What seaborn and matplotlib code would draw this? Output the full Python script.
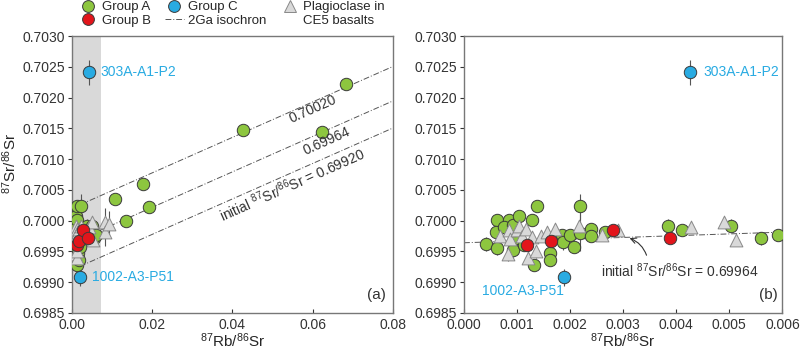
import numpy as np
import pandas as pd
import matplotlib
matplotlib.use("Agg")
import matplotlib.pyplot as plt
from matplotlib.lines import Line2D
import seaborn as sns

# ---- data ----
groupA_x = [0.00042, 0.00062, 0.00061, 0.00063, 0.00084, 0.00076, 0.00093, 0.00104,
            0.00100, 0.00092, 0.00129, 0.00137, 0.00113, 0.00131, 0.00162, 0.00163,
            0.00184, 0.00187, 0.00199, 0.00207, 0.00218, 0.00218, 0.00239, 0.00240,
            0.00266, 0.00385, 0.00411, 0.00503, 0.00559, 0.00592,
            0.0107, 0.01345, 0.01776, 0.01926, 0.04267, 0.0624, 0.0684]
groupA_y = [0.69962, 0.70001, 0.69982, 0.69956, 0.70001, 0.69989, 0.69993, 0.70008,
            0.69971, 0.69952, 0.70001, 0.70024, 0.69960, 0.69928, 0.69947, 0.69936,
            0.69976, 0.69966, 0.69977, 0.69957, 0.70023, 0.69980, 0.69986, 0.69975,
            0.69981, 0.69992, 0.69984, 0.69992, 0.69971, 0.69976,
            0.70035, 0.70000, 0.70059, 0.70022, 0.70148, 0.70144, 0.70222]
groupA_err = [0.00012, 0.00010, 0.00008, 0.00012, 0.00008, 0.00010, 0.00008, 0.00008,
              0.00010, 0.00012, 0.00010, 0.00008, 0.00010, 0.00010, 0.00008, 0.00008,
              0.00010, 0.00014, 0.00008, 0.00010, 0.00020, 0.00030, 0.00010, 0.00008,
              0.00008, 0.00010, 0.00008, 0.00010, 0.00010, 0.00008,
              0.00008, 0.00008, 0.00008, 0.00008, 0.00008, 0.00008, 0.00008]

groupB_x = [0.00119, 0.00164, 0.00281, 0.00388]
groupB_y = [0.69960, 0.69967, 0.69984, 0.69972]
groupB_err = [0.00006, 0.00006, 0.00006, 0.00006]

groupC_x = [0.00426, 0.00189]
groupC_y = [0.70241, 0.69908]
groupC_err = [0.00020, 0.00014]
groupC_names = ["303A-A1-P2", "1002-A3-P51"]

plag_x = [0.00068, 0.00084, 0.00086, 0.00083, 0.00099, 0.00104, 0.00109, 0.00117,
          0.00121, 0.00129, 0.00135, 0.00145, 0.00156, 0.00172, 0.00217, 0.00260,
          0.00290, 0.00428, 0.00490, 0.00513, 0.0082, 0.0082, 0.0093]
plag_y = [0.69975, 0.69985, 0.69970, 0.69945, 0.69984, 0.69991, 0.69975, 0.69986,
          0.69940, 0.69973, 0.69950, 0.69975, 0.69982, 0.69987, 0.69992, 0.69976,
          0.69984, 0.69990, 0.69997, 0.69968, 0.69998, 0.69981, 0.69995]
plag_err = [0.00008, 0.00008, 0.00010, 0.00010, 0.00008, 0.00008, 0.00008, 0.00008,
            0.00010, 0.00008, 0.00010, 0.00008, 0.00008, 0.00008, 0.00008, 0.00008,
            0.00008, 0.00006, 0.00006, 0.00006, 0.00022, 0.00022, 0.00020]

# 2 Ga isochrons: slope = exp(lambda*t) - 1
iso_slope = np.expm1(1.42e-11 * 2e9)
iso_a_initials = [0.69920, 0.69964, 0.70020]
iso_a_x = [0.002, 0.08]
iso_b_initial = 0.69964
iso_b_x = [0.0, 0.006]

GREEN = "#8dc63f"
RED = "#e2151b"
BLUE = "#29abe2"
GRAY_TRI = "#d9d9d9"
EDGE = "#3a3a3a"
TXT = "#333333"
DASHDOT = (0, (6, 2, 1, 2))

sns.set_theme(style="ticks")
plt.rcParams["font.family"] = ["Liberation Sans", "DejaVu Sans"]
plt.rcParams["mathtext.fontset"] = "custom"
plt.rcParams["mathtext.rm"] = "Liberation Sans"
plt.rcParams["mathtext.default"] = "regular"

fig = plt.figure(figsize=(8, 3.5), dpi=100)
ax_a = fig.add_axes([0.09, 0.106, 0.401, 0.791])
ax_b = fig.add_axes([0.58, 0.106, 0.398, 0.791])

groups = [
    (groupA_x, groupA_y, groupA_err, GREEN, "o", 80),
    (plag_x, plag_y, plag_err, GRAY_TRI, "^", 85),
    (groupB_x, groupB_y, groupB_err, RED, "o", 80),
    (groupC_x, groupC_y, groupC_err, BLUE, "o", 80),
]

for ax in (ax_a, ax_b):
    for gx, gy, ge, col, mk, s in groups:
        ax.errorbar(gx, gy, yerr=ge, fmt="none", ecolor="#555555", elinewidth=0.8, zorder=2)
        df = pd.DataFrame({"x": gx, "y": gy})
        edge = "#888888" if mk == "^" else EDGE
        sns.scatterplot(data=df, x="x", y="y", ax=ax, color=col, marker=mk, s=s,
                        edgecolor=edge, linewidth=0.7, zorder=3, legend=False)
    ax.set_ylim(0.6985, 0.7030)
    ax.set_yticks(np.arange(0.6985, 0.70301, 0.0005))
    ax.yaxis.set_major_formatter(plt.FormatStrFormatter("%.4f"))
    ax.set_xlabel(r"$^{87}$Rb/$^{86}$Sr", fontsize=11, labelpad=-1)
    ax.tick_params(axis="y", direction="out", length=3, width=0.8, labelsize=10,
                   colors=TXT, pad=2)
    ax.tick_params(axis="x", direction="in", length=3, width=0.8, labelsize=10,
                   colors=TXT, pad=4)
    for sp in ax.spines.values():
        sp.set_color("#777777")
        sp.set_linewidth(1.0)

# ---- panel (a) ----
ax_a.axvspan(0, 0.00715, color="#d9d9d9", zorder=0, lw=0)
for c in iso_a_initials:
    xs = np.array(iso_a_x)
    ax_a.plot(xs, c + iso_slope * xs, color="#555555", lw=0.7, ls=DASHDOT, zorder=1)
ax_a.set_xlim(0, 0.08)
ax_a.set_xticks([0, 0.02, 0.04, 0.06, 0.08])
ax_a.xaxis.set_major_formatter(plt.FormatStrFormatter("%.2f"))
ax_a.set_ylabel(r"$^{87}$Sr/$^{86}$Sr", fontsize=11)
ax_a.yaxis.set_label_coords(-0.165, 0.54)
rot = 24
ax_a.text(0.0600, 0.70181, "0.70020", rotation=rot, ha="center", va="center",
          fontsize=10, color=TXT, rotation_mode="anchor")
ax_a.text(0.0635, 0.70129, "0.69964", rotation=rot, ha="center", va="center",
          fontsize=10, color=TXT, rotation_mode="anchor")
ax_a.text(0.0548, 0.70059, r"initial $^{87}$Sr/$^{86}$Sr = 0.69920", rotation=rot,
          ha="center", va="center", fontsize=10, color=TXT, rotation_mode="anchor")
ax_a.text(0.0072, groupC_y[0], groupC_names[0], color=BLUE, fontsize=10, va="center")
ax_a.text(0.0050, groupC_y[1], groupC_names[1], color=BLUE, fontsize=10, va="center")
ax_a.text(0.95, 0.065, "(a)", transform=ax_a.transAxes, ha="center", va="center",
          fontsize=11, color=TXT)

# ---- panel (b) ----
xs = np.array(iso_b_x)
ax_b.plot(xs, iso_b_initial + iso_slope * xs, color="#555555", lw=0.7, ls=DASHDOT, zorder=1)
ax_b.set_xlim(0, 0.006)
ax_b.set_xticks(np.arange(0, 0.00601, 0.001))
ax_b.xaxis.set_major_formatter(plt.FormatStrFormatter("%.3f"))
ax_b.set_ylabel("")
ax_b.text(0.00452, groupC_y[0], groupC_names[0], color=BLUE, fontsize=10, va="center")
ax_b.text(0.00034, 0.69886, groupC_names[1], color=BLUE, fontsize=10, va="center")
ax_b.annotate(r"initial $^{87}$Sr/$^{86}$Sr = 0.69964", xy=(0.00307, 0.69973),
              xytext=(0.00258, 0.69919), fontsize=10, color=TXT, va="center",
              arrowprops=dict(arrowstyle="->", color=TXT, lw=0.8,
                              connectionstyle="arc3,rad=0.3",
                              relpos=(0.3, 1.0)))
ax_b.text(0.955, 0.065, "(b)", transform=ax_b.transAxes, ha="center", va="center",
          fontsize=11, color=TXT)

# ---- legend ----
handles = [
    Line2D([], [], ls="none", marker="o", ms=8.5, mfc=GREEN, mec=EDGE, mew=0.7),
    Line2D([], [], ls="none", marker="o", ms=8.5, mfc=RED, mec=EDGE, mew=0.7),
    Line2D([], [], ls="none", marker="o", ms=8.5, mfc=BLUE, mec=EDGE, mew=0.7),
    Line2D([], [], color="#555555", lw=0.7, ls=DASHDOT),
    Line2D([], [], ls="none", marker="^", ms=8.5, mfc=GRAY_TRI, mec="#888888", mew=0.7),
    Line2D([], [], ls="none"),
]
labels = ["Group A", "Group B", "Group C", "2Ga isochron", "Plagioclase in", "CE5 basalts"]
fig.legend(handles, labels, ncol=3, loc="upper left", bbox_to_anchor=(0.099, 0.997),
           frameon=False, fontsize=9.5, handlelength=1.4, handletextpad=0.3,
           columnspacing=1.1, labelspacing=0.12, borderaxespad=0, borderpad=0)

fig.savefig("out.png", dpi=100)
